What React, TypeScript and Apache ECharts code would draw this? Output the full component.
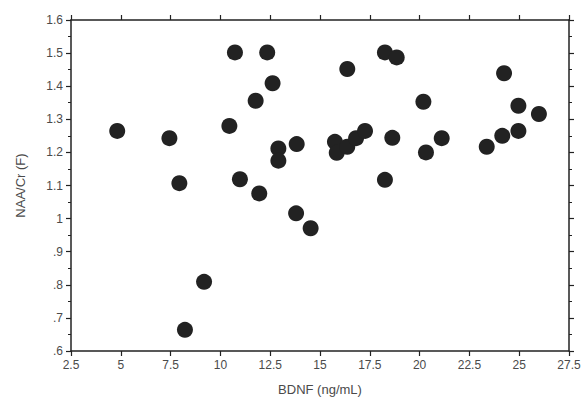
import React, { useEffect, useRef } from "react";
import * as echarts from "echarts";

const bdnf = [
  4.82, 7.44, 7.94, 8.22, 9.18, 10.45, 10.73, 10.98, 11.77, 11.95, 12.35, 12.62,
  12.91, 12.91, 13.8, 13.83, 14.53, 15.75, 15.84, 16.37, 16.37, 16.81, 17.26,
  18.26, 18.26, 18.63, 18.85, 20.19, 20.32, 21.11, 23.37, 24.15, 24.24, 24.96,
  24.96, 25.99,
];
const naaCr = [
  1.265, 1.243, 1.107, 0.664, 0.809, 1.28, 1.502, 1.119, 1.356, 1.076, 1.502, 1.409,
  1.212, 1.175, 1.016, 1.225, 0.971, 1.232, 1.199, 1.217, 1.452, 1.243, 1.265,
  1.502, 1.117, 1.244, 1.487, 1.353, 1.2, 1.243, 1.217, 1.25, 1.439, 1.265,
  1.341, 1.316,
];
const xTitle = "BDNF (ng/mL)";
const yTitle = "NAA/Cr (F)";

const axisColor = "#222";
const labelColor = "#4a4a4a";
const font = "Arial, 'Liberation Sans', sans-serif";

function fmtY(v: number): string {
  const r = Math.round(v * 10) / 10;
  if (r === 1) return "1";
  if (r < 1) return r.toFixed(1).replace(/^0/, "");
  return r.toFixed(1);
}
function fmtX(v: number): string {
  const r = Math.round(v * 10) / 10;
  return String(r);
}

export default function App() {
  const ref = useRef<HTMLDivElement>(null);
  useEffect(() => {
    if (!ref.current) return;
    const chart = echarts.init(ref.current, undefined, { renderer: "svg" });
    const axisLine = { show: true, lineStyle: { color: axisColor, width: 1.5 } };
    chart.setOption({
      animation: false,
      backgroundColor: "#fff",
      grid: { left: 71, top: 20, right: 18, bottom: 61 },
      xAxis: [
        {
          type: "value",
          min: 2.5,
          max: 27.5,
          interval: 2.5,
          position: "bottom",
          name: xTitle,
          nameLocation: "middle",
          nameGap: 32,
          nameTextStyle: { color: labelColor, fontSize: 13, fontFamily: font },
          axisLine,
          axisTick: { show: true, inside: false, length: 5, lineStyle: { color: axisColor, width: 1.2 } },
          axisLabel: { color: labelColor, fontSize: 12, fontFamily: font, margin: 8, formatter: fmtX },
          splitLine: { show: false },
        },
        {
          type: "value",
          min: 2.5,
          max: 27.5,
          interval: 2.5,
          position: "top",
          axisLine,
          axisTick: { show: true, inside: false, length: 5, lineStyle: { color: axisColor, width: 1.2 } },
          axisLabel: { show: false },
          splitLine: { show: false },
        },
      ],
      yAxis: [
        {
          type: "value",
          min: 0.6,
          max: 1.6,
          interval: 0.1,
          position: "left",
          name: yTitle,
          nameLocation: "middle",
          nameGap: 44,
          nameTextStyle: { color: labelColor, fontSize: 13, fontFamily: font },
          axisLine,
          axisTick: { show: true, inside: false, length: 5, lineStyle: { color: axisColor, width: 1.2 } },
          minorTick: { show: true, splitNumber: 2, length: 3, lineStyle: { color: axisColor, width: 1 } },
          axisLabel: { color: labelColor, fontSize: 12, fontFamily: font, margin: 8, formatter: fmtY },
          splitLine: { show: false },
        },
        {
          type: "value",
          min: 0.6,
          max: 1.6,
          interval: 0.1,
          position: "right",
          axisLine,
          axisTick: { show: true, inside: false, length: 5, lineStyle: { color: axisColor, width: 1.2 } },
          minorTick: { show: true, splitNumber: 2, length: 3, lineStyle: { color: axisColor, width: 1 } },
          axisLabel: { show: false },
          splitLine: { show: false },
        },
      ],
      series: [
        {
          type: "scatter",
          symbol: "circle",
          symbolSize: 16,
          itemStyle: { color: "#222", opacity: 1 },
          data: bdnf.map((x, i) => [x, naaCr[i]]),
        },
      ],
    });
    return () => chart.dispose();
  }, []);
  return <div ref={ref} style={{ width: 587, height: 412, position: "absolute", left: 0, top: 0 }} />;
}
